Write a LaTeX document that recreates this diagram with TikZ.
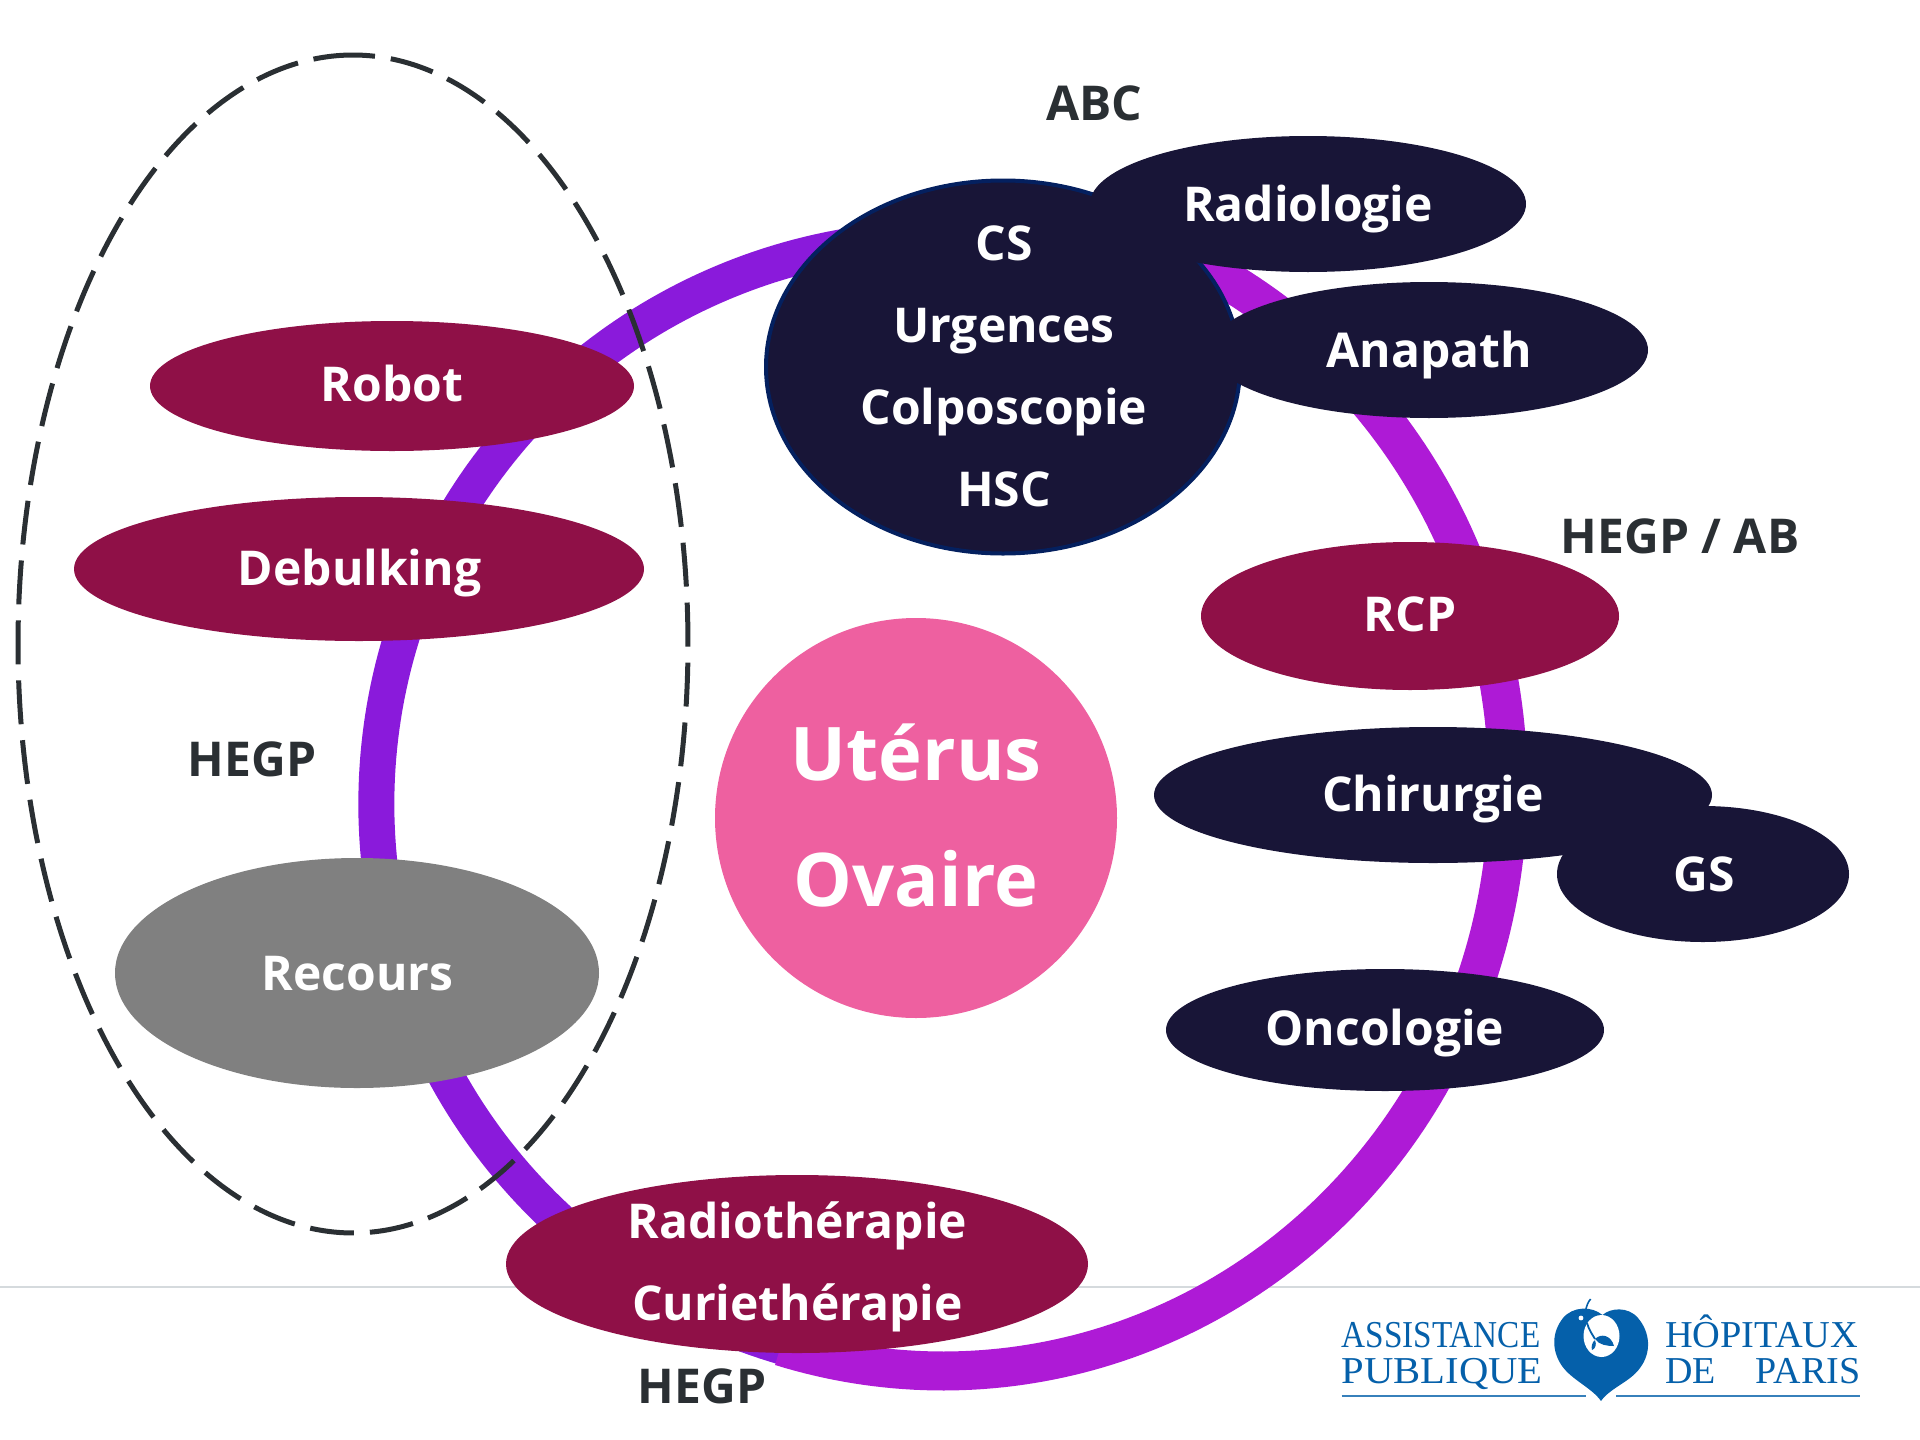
\documentclass[tikz,border=0pt]{standalone}
\usepackage{fontspec}
\usepackage{graphicx}
\setmainfont{Open Sans}
\newfontfamily\logofont{Liberation Serif}
\usetikzlibrary{shapes.geometric}
\definecolor{navyblob}{HTML}{181537}
\definecolor{navyedge}{HTML}{04205F}
\definecolor{wine}{HTML}{8F1047}
\definecolor{greyblob}{HTML}{808080}
\definecolor{pinkblob}{HTML}{EE60A0}
\definecolor{ringleft}{HTML}{8A1ADB}
\definecolor{ringright}{HTML}{AE1AD6}
\definecolor{ink}{HTML}{2A2F33}
\definecolor{aphp}{HTML}{0560AA}
\definecolor{rulegrey}{HTML}{D5DADD}
\tikzset{
  blob/.style={ellipse,inner sep=0pt,draw=none},
  navy/.style={blob,fill=navyblob},
  winered/.style={blob,fill=wine},
  whitetext/.style={font=\fontsize{48}{48}\selectfont\bfseries,text=white,inner sep=0pt,text height=34pt,text depth=0pt},
  stacktext/.style={font=\fontsize{48}{82}\selectfont\bfseries,text=white,align=center,inner sep=0pt},
  bigtext/.style={font=\fontsize{74}{126}\selectfont\bfseries,text=white,align=center,inner sep=0pt},
  site/.style={font=\fontsize{48}{48}\selectfont\bfseries,text=ink,inner sep=0pt,text height=34pt,text depth=0pt},
  logotext/.style={font=\logofont\fontsize{38}{38}\selectfont,text=aphp,inner sep=0pt,anchor=base west},
  logorule/.style={draw=aphp!80,line width=1.4pt}
}
\begin{document}
\begin{tikzpicture}[x=1pt,y=-1pt]
\useasboundingbox (0,0) rectangle (1920,1440);
% horizontal rule
\coordinate (ruleL) at (0,1287); \coordinate (ruleR) at (1920,1287);
\draw[rulegrey,line width=1.5pt] (ruleL) -- (ruleR);
% ring
\draw[ringleft,line width=36pt] plot[domain=102:285,samples=180] ({942+565.7*cos(\x)},{804+565.7*sin(\x)});
\draw[ringright,line width=39pt] plot[domain=-70:106.7,samples=180] ({943+565*cos(\x)},{786+585*sin(\x)});
% left group
\draw[ink,line width=5pt,dash pattern=on 44pt off 16pt,dash phase=22pt] plot[domain=-90:270,samples=360,smooth] ({353+335*cos(\x)},{644+589*sin(\x)});
\node[winered,minimum width=484pt,minimum height=130pt] (robot) at (392,386) {};
\node[whitetext] (robotT) at (392,384.5) {Robot};
\node[winered,minimum width=570pt,minimum height=144pt] (debulk) at (359,569) {};
\node[whitetext] (debulkT) at (359.5,568.5) {Debulking};
\node[blob,fill=greyblob,minimum width=484pt,minimum height=230pt] (recours) at (357,973) {};
\node[whitetext] (recoursT) at (357.5,973) {Recours};
\node[site] (hegpL) at (252,759) {HEGP};
% centre
\node[blob,fill=pinkblob,minimum width=402pt,minimum height=400pt] (centre) at (916,818) {};
\node[bigtext] (centreT) at (916,816) {Utérus\\Ovaire};
% top group
\node[navy,draw=navyedge,line width=4pt,minimum width=474pt,minimum height=373pt] (cs) at (1003,367) {};
\node[navy,minimum width=436pt,minimum height=136pt] (radio) at (1308,204) {};
\node[navy,minimum width=438pt,minimum height=136pt] (ana) at (1429,350) {};
\node[stacktext] (csT) at (1004,366) {CS\\Urgences\\Colposcopie\\HSC};
\node[whitetext] (radioT) at (radio) {Radiologie};
\node[whitetext] (anaT) at (1429.5,350) {Anapath};
\node[site] (abc) at (1094,103) {ABC};
% right group
\node[site] (hegpab) at (1680,536) {HEGP / AB};
\node[winered,minimum width=418pt,minimum height=148pt] (rcp) at (1410,616) {};
\node[whitetext] (rcpT) at (1410,614) {RCP};
\node[navy,minimum width=292pt,minimum height=136pt] (gs) at (1703,874) {};
\node[navy,minimum width=558pt,minimum height=136pt] (chir) at (1433,795) {};
\node[whitetext] (chirT) at (1433,794) {Chirurgie};
\node[whitetext] (gsT) at (1704,874) {GS};
\node[navy,minimum width=438pt,minimum height=122pt] (onco) at (1385,1030) {};
\node[whitetext] (oncoT) at (1385,1028) {Oncologie};
% bottom
\node[winered,minimum width=582pt,minimum height=178pt] (radiot) at (797,1264) {};
\node[stacktext] (radiotT) at (797.5,1267) {Radiothérapie\\Curiethérapie};
\node[site] (hegpB) at (702,1386) {HEGP};
% logo
\node[logotext] (la) at (1341.5,1347) {\scalebox{.875}[1]{ASSISTANCE}};
\node[logotext] (lb) at (1341.5,1383) {\scalebox{1.07}[1]{PUBLIQUE}};
\node[logotext] (lc) at (1665,1347) {\scalebox{1.01}[1]{HÔPITAUX}};
\node[logotext] (ld) at (1665,1383) {\makebox[195pt][s]{DE\hfill PARIS}};
\coordinate (r1a) at (1341.5,1396); \coordinate (r1b) at (1585.5,1396);
\coordinate (r2a) at (1616,1396); \coordinate (r2b) at (1860,1396);
\draw[logorule] (r1a) -- (r1b);
\draw[logorule] (r2a) -- (r2b);
\fill[aphp] (1602.5,1315) .. controls (1610,1308) and (1628,1306) .. (1638,1318)
  .. controls (1650,1332) and (1652,1352) .. (1640,1368)
  .. controls (1630,1382) and (1610,1388) .. (1601,1401)
  .. controls (1592,1388) and (1572,1380) .. (1562,1366)
  .. controls (1551,1350) and (1552,1332) .. (1563,1318)
  .. controls (1573,1306) and (1592,1306) .. (1602.5,1315) -- cycle;
\draw[aphp,line width=1.6pt] (1585.5,1311) .. controls (1586.5,1306) and (1588,1302) .. (1590.6,1299);
\fill[white] (1601.5,1336) ellipse [x radius=18,y radius=21];
\fill[white] (1581,1318) circle [radius=2.4];
\draw[aphp,line width=1.8pt] (1587,1323) .. controls (1589,1330) and (1592,1334) .. (1595,1339);
\fill[aphp] (1595,1339) .. controls (1601,1333) and (1611,1335) .. (1614,1346) .. controls (1607,1346) and (1599,1345) .. (1595,1339) -- cycle;
\fill[aphp] (1595,1340) .. controls (1592,1342) and (1591,1347) .. (1592,1350) .. controls (1595,1349) and (1597,1345) .. (1595,1340) -- cycle;
\end{tikzpicture}
\end{document}
